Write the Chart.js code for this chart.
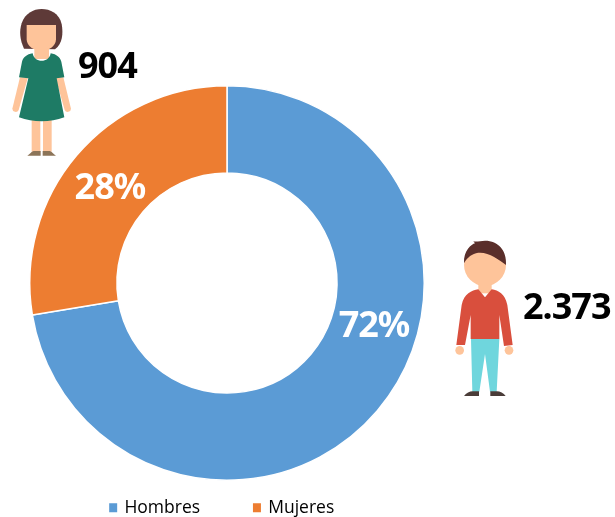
<!DOCTYPE html>
<html><head><meta charset="utf-8">
<script src="https://cdn.jsdelivr.net/npm/chart.js@4/dist/chart.umd.min.js"></script>
<style>
html,body{margin:0;padding:0;background:#fff;width:615px;height:517px;overflow:hidden}
#wrap{position:relative;width:615px;height:517px}
canvas{position:absolute;left:0;top:0}
svg{position:absolute}
</style></head><body>
<div id="wrap">
<canvas id="c" width="615" height="517"></canvas>
<svg style="left:0;top:0" width="160" height="170" viewBox="0 0 480 510" aria-hidden="true">
  <path fill="#5e3a38" d="M72 146C60 120 57 95 65 70C75 40 100 27 125 27C150 27 178 40 185 72C190 100 188 130 165 148Z"/>
  <path fill="#fec49a" d="M80 75H168V118C168 140 145 152 124 152C103 152 80 140 80 118Z"/>
  <rect fill="#fec49a" x="103" y="135" width="44" height="42"/>
  <path fill="#fec49a" d="M60 232H84L56 330A10 10 0 0 1 37 326Z"/>
  <path fill="#fec49a" d="M190 232H166L194 330A10 10 0 0 0 213 326Z"/>
  <rect fill="#fec49a" x="95" y="355" width="26" height="100"/>
  <rect fill="#fec49a" x="129" y="355" width="26" height="100"/>
  <path fill="#1e7b65" d="M98 160C102 190 148 190 152 160C170 163 180 172 184 185L193 232L170 235L193 352C150 368 100 368 57 352L85 235L57 232L66 185C70 172 80 163 98 160Z"/>
  <path fill="#8c7458" d="M82 467C90 462 96 453 101 453H122V467Z"/>
  <path fill="#8c7458" d="M168 467C160 462 154 453 149 453H128V467Z"/>
</svg>
<svg style="left:440px;top:230px" width="175" height="175" viewBox="0 0 525 525" aria-hidden="true">
  <rect fill="#fec49a" x="115" y="150" width="40" height="40"/>
  <circle fill="#fec49a" cx="135" cy="105" r="63"/>
  <path fill="#5a2e2a" d="M72 100C70 62 95 42 105 40L100 34C112 36 122 32 135 32C175 32 201 62 198 105C175 88 140 62 108 70C90 75 78 88 72 100Z"/>
  <circle fill="#fec49a" cx="59" cy="361" r="13"/>
  <circle fill="#fec49a" cx="207" cy="361" r="13"/>
  <path fill="#d94f3d" d="M115 178L135 202L155 178C175 182 195 190 202 225L218 345L192 348L178 255V327H92V255L75 345L49 345L65 225C72 190 95 182 115 178Z"/>
  <path fill="#6fd6dd" d="M93 327H178L170 485H150L135 372L118 485H97Z"/>
  <path fill="#4a3c38" d="M72 498C78 490 90 484 98 484H117V498Z"/>
  <path fill="#4a3c38" d="M197 498C191 490 180 484 170 484H151V498Z"/>
</svg>
</div>
<script>
const categories = ['Hombres', 'Mujeres'];
const values = [2373, 904];
const percentLabels = ['72%', '28%'];
const sliceColors = ['#5b9bd5', '#ed7d31'];
const labelAnchors = [0.405, 0.5];
const labelNudgeY = [2, 5];
const labelNudgeX = [-1, 0];
const countLabels = [
  {text: '2.373', x: 523, y: 319},
  {text: '904', x: 78, y: 78}
];
const legendGap = '\u00A0'.repeat(8);
const legendTail = '\u00A0'.repeat(2);
const BIG = 'bold 36px "Noto Sans", sans-serif';

const textPlugin = {
  id: 'textPlugin',
  afterDatasetsDraw(chart) {
    const ctx = chart.ctx;
    const arcs = chart.getDatasetMeta(0).data;
    ctx.save();
    ctx.font = BIG;
    ctx.letterSpacing = '-1px';
    ctx.fillStyle = '#ffffff';
    ctx.textAlign = 'center';
    ctx.textBaseline = 'middle';
    arcs.forEach((a, i) => {
      const mid = a.startAngle + (a.endAngle - a.startAngle) * labelAnchors[i];
      const r = (a.innerRadius + a.outerRadius) / 2;
      ctx.fillText(percentLabels[i], a.x + Math.cos(mid) * r + labelNudgeX[i], a.y + Math.sin(mid) * r + labelNudgeY[i]);
    });
    ctx.fillStyle = '#000000';
    ctx.textAlign = 'left';
    ctx.textBaseline = 'alphabetic';
    countLabels.forEach(l => ctx.fillText(l.text, l.x, l.y));
    ctx.restore();
  }
};

new Chart(document.getElementById('c'), {
  type: 'doughnut',
  data: {
    labels: categories,
    datasets: [{data: values, backgroundColor: sliceColors, borderColor: '#ffffff', borderWidth: 1.5}]
  },
  options: {
    responsive: false,
    animation: false,
    cutout: '55.8%',
    layout: {padding: {left: 29, right: 190, top: 85, bottom: -9.5}},
    plugins: {
      tooltip: {enabled: false},
      legend: {
        position: 'bottom',
        labels: {
          boxWidth: 5, boxHeight: 6, padding: 18,
          color: '#404040',
          font: {family: 'Open Sans, sans-serif', size: 17.5},
          generateLabels(chart) {
            return chart.data.labels.map((t, i) => ({
              text: t + (i === 0 ? legendGap : legendTail),
              fillStyle: sliceColors[i],
              strokeStyle: sliceColors[i],
              lineWidth: 3,
              index: i
            }));
          }
        }
      }
    }
  },
  plugins: [textPlugin]
});
</script>
</body></html>
